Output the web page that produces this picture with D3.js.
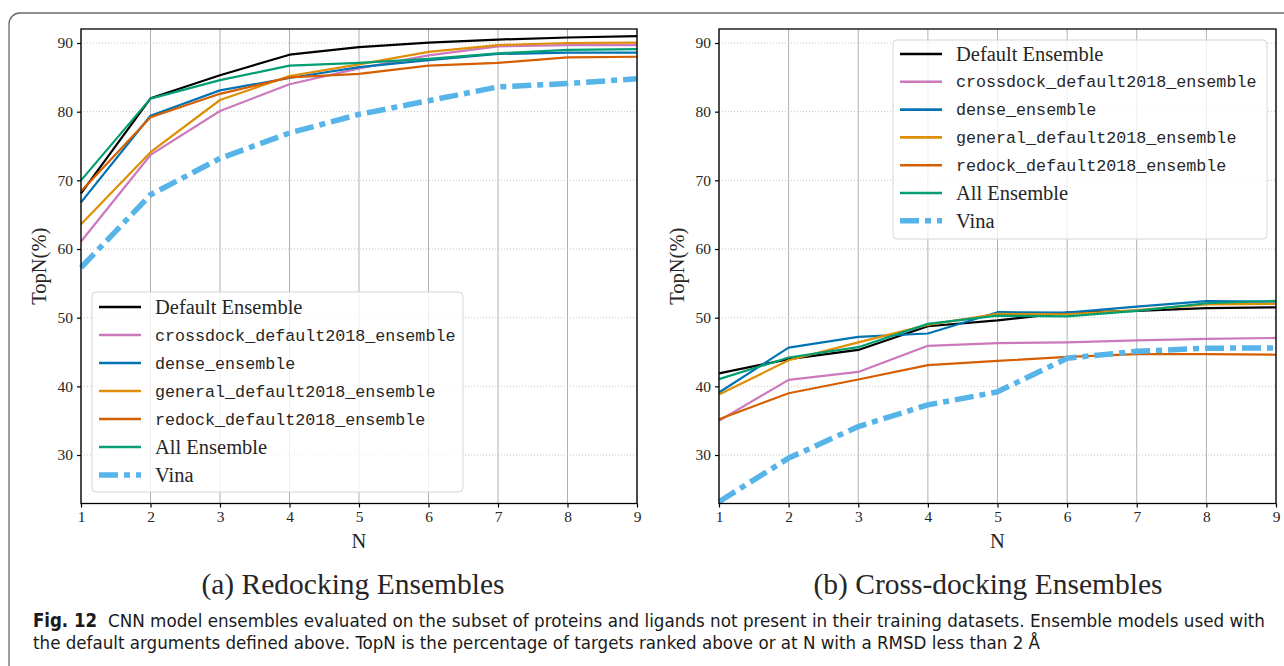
<!DOCTYPE html>
<html>
<head>
<meta charset="utf-8">
<script src="https://cdn.jsdelivr.net/npm/d3@7"></script>
<style>
  html, body { margin: 0; padding: 0; background: #fff; }
  svg { display: block; }
</style>
</head>
<body>
<svg id="chart" width="1284" height="666"></svg>
<script>
// ---------------- DATA ----------------
const nValues = [1, 2, 3, 4, 5, 6, 7, 8, 9];
const xTickLabels = ["1", "2", "3", "4", "5", "6", "7", "8", "9"];
const yTickValues = [30, 40, 50, 60, 70, 80, 90];

const seriesNames = [
  "Default Ensemble",
  "crossdock_default2018_ensemble",
  "dense_ensemble",
  "general_default2018_ensemble",
  "redock_default2018_ensemble",
  "All Ensemble",
  "Vina"
];
const seriesMono = [false, true, true, true, true, false, false];

// (a) Redocking Ensembles
const redockDefault   = [68.1, 81.95, 85.3, 88.3, 89.4, 90.05, 90.5, 90.8, 91.0];
const redockCrossdock = [61.1, 73.7, 80.1, 84.0, 86.3, 88.2, 89.5, 89.7, 89.7];
const redockDense     = [66.8, 79.4, 83.1, 84.9, 86.5, 87.5, 88.4, 88.6, 88.6];
const redockGeneral   = [63.6, 74.1, 81.7, 85.2, 86.9, 88.7, 89.7, 90.0, 90.05];
const redockRedock    = [68.4, 79.2, 82.6, 85.0, 85.5, 86.7, 87.1, 87.9, 88.0];
const redockAll       = [70.0, 81.9, 84.6, 86.7, 87.1, 87.7, 88.5, 89.0, 89.1];
const redockVina      = [57.3, 67.9, 73.2, 76.9, 79.6, 81.6, 83.6, 84.1, 84.8];

// (b) Cross-docking Ensembles
const crossDefault   = [41.9, 43.96, 45.3, 48.75, 49.6, 50.75, 51.0, 51.4, 51.5];
const crossCrossdock = [35.0, 40.95, 42.1, 45.9, 46.3, 46.4, 46.7, 46.9, 47.05];
const crossDense     = [39.1, 45.65, 47.2, 47.7, 50.8, 50.75, 51.6, 52.4, 52.35];
const crossGeneral   = [38.8, 43.8, 46.4, 48.95, 50.55, 50.5, 51.1, 51.95, 52.0];
const crossRedock    = [35.2, 39.0, 41.0, 43.1, 43.7, 44.3, 44.7, 44.7, 44.6];
const crossAll       = [41.05, 44.2, 45.7, 49.1, 50.3, 50.2, 51.0, 52.1, 52.45];
const crossVina      = [23.2, 29.55, 34.15, 37.3, 39.2, 44.1, 45.1, 45.55, 45.6];

const panelTitles = ["(a) Redocking Ensembles", "(b) Cross-docking Ensembles"];
const captionBold = "Fig. 12";
const captionLine1 = "CNN model ensembles evaluated on the subset of proteins and ligands not present in their training datasets. Ensemble models used with";
const captionLine2 = "the default arguments defined above. TopN is the percentage of targets ranked above or at N with a RMSD less than 2 Å";

// ---------------- STYLE ----------------
const colors = ["#000000", "#cc78bc", "#0173b2", "#de8f05", "#d55e00", "#029e73", "#56b4e9"];
const widths = [2.2, 2.2, 2.2, 2.2, 2.2, 2.2, 5.5];
const dashes = [null, null, null, null, null, null, "19,6,6,6"];
const serif = "'Liberation Serif', 'DejaVu Serif', serif";
const mono = "'Liberation Mono', 'DejaVu Sans Mono', monospace";
const textCol = "#262626";

const svg = d3.select("#chart");

// outer rounded frame
svg.append("rect")
  .attr("x", 9).attr("y", 13).attr("width", 1300).attr("height", 680)
  .attr("rx", 11).attr("ry", 11)
  .attr("fill", "none").attr("stroke", "#6a6a6a").attr("stroke-width", 1.3);

const panels = [
  { x0: 81, x1: 637, data: [redockDefault, redockCrossdock, redockDense, redockGeneral, redockRedock, redockAll, redockVina],
    legend: { x: 92, y: 292, w: 371, h: 200, row0: 307, step: 28 }, title: panelTitles[0], titleX: 353 },
  { x0: 719, x1: 1276, data: [crossDefault, crossCrossdock, crossDense, crossGeneral, crossRedock, crossAll, crossVina],
    legend: { x: 893, y: 40, w: 374, h: 199, row0: 54, step: 27.8 }, title: panelTitles[1], titleX: 988 }
];
const yTop = 29, yBot = 503.5;

panels.forEach((p, pi) => {
  const g = svg.append("g");
  const x = d3.scaleLinear().domain([1, 9]).range([p.x0, p.x1]);
  const y = d3.scaleLinear().domain([22.94, 92.04]).range([yBot, yTop]);

  // horizontal dotted grid
  g.append("g").selectAll("line").data(yTickValues).join("line")
    .attr("x1", p.x0).attr("x2", p.x1)
    .attr("y1", d => y(d)).attr("y2", d => y(d))
    .attr("stroke", "#c4c4c4").attr("stroke-width", 1).attr("stroke-dasharray", "1,2");
  // vertical solid grid
  g.append("g").selectAll("line").data(nValues).join("line")
    .attr("x1", d => x(d)).attr("x2", d => x(d))
    .attr("y1", yTop).attr("y2", yBot)
    .attr("stroke", "#b0b0b0").attr("stroke-width", 1);

  // lines
  const line = d3.line().x((d, i) => x(nValues[i])).y(d => y(d));
  p.data.forEach((vals, si) => {
    g.append("path").datum(vals)
      .attr("d", line)
      .attr("fill", "none")
      .attr("stroke", colors[si])
      .attr("stroke-width", widths[si])
      .attr("stroke-linejoin", "round")
      .attr("stroke-dasharray", dashes[si]);
  });

  // axes
  const xAxis = d3.axisBottom(x).tickValues(nValues).tickFormat((d, i) => xTickLabels[i]).tickSize(4).tickPadding(3);
  const yAxis = d3.axisLeft(y).tickValues(yTickValues).tickSize(4).tickPadding(4);
  const gx = g.append("g").attr("transform", `translate(0,${yBot})`).call(xAxis);
  const gy = g.append("g").attr("transform", `translate(${p.x0},0)`).call(yAxis);
  [gx, gy].forEach(a => {
    a.select(".domain").remove();
    a.selectAll(".tick line").attr("stroke", "#000").attr("stroke-width", 1.2);
    a.selectAll(".tick text").attr("font-family", serif).attr("font-size", 15.5).attr("fill", textCol);
  });

  // spines
  g.append("rect").attr("x", p.x0).attr("y", yTop).attr("width", p.x1 - p.x0).attr("height", yBot - yTop)
    .attr("fill", "none").attr("stroke", "#000").attr("stroke-width", 1.3);

  // axis labels
  g.append("text").attr("x", (p.x0 + p.x1) / 2).attr("y", 548)
    .attr("text-anchor", "middle").attr("font-family", serif).attr("font-size", 20.5).attr("fill", textCol)
    .text("N");
  g.append("text").attr("transform", `translate(${p.x0 - 35},${(yTop + yBot) / 2}) rotate(-90)`)
    .attr("text-anchor", "middle").attr("font-family", serif).attr("font-size", 20.5).attr("fill", textCol)
    .text("TopN(%)");

  // legend
  const L = p.legend;
  const lg = g.append("g");
  lg.append("rect").attr("x", L.x).attr("y", L.y).attr("width", L.w).attr("height", L.h)
    .attr("rx", 4).attr("ry", 4)
    .attr("fill", "#fff").attr("fill-opacity", 0.8)
    .attr("stroke", "#d5d5d5").attr("stroke-width", 1);
  seriesNames.forEach((name, si) => {
    const cy = L.row0 + si * L.step;
    lg.append("line").attr("x1", L.x + 7).attr("x2", L.x + 49).attr("y1", cy).attr("y2", cy)
      .attr("stroke", colors[si]).attr("stroke-width", si === 6 ? 5.5 : 2.6)
      .attr("stroke-dasharray", si === 6 ? "19,6,6,6" : null);
    lg.append("text").attr("x", L.x + 63).attr("y", cy).attr("dy", "0.33em")
      .attr("font-family", seriesMono[si] ? mono : serif)
      .attr("font-size", seriesMono[si] ? 16.7 : 20.5)
      .attr("fill", textCol)
      .text(name);
  });

  // panel title
  g.append("text").attr("x", p.titleX).attr("y", 594)
    .attr("text-anchor", "middle").attr("font-family", serif).attr("font-size", 29.5).attr("fill", textCol)
    .text(p.title);
});

// figure caption
const sans = "'DejaVu Sans Condensed', 'Liberation Sans Narrow', 'Open Sans', sans-serif";
svg.append("text").attr("x", 33).attr("y", 627)
  .attr("font-family", sans).attr("font-weight", "bold").attr("font-size", 19)
  .attr("textLength", 64).attr("lengthAdjust", "spacingAndGlyphs").attr("fill", "#1a1a1a")
  .text(captionBold);
svg.append("text").attr("x", 108).attr("y", 627)
  .attr("font-family", sans).attr("font-size", 18)
  .attr("textLength", 1157).attr("lengthAdjust", "spacingAndGlyphs").attr("fill", "#1a1a1a")
  .text(captionLine1);
svg.append("text").attr("x", 33).attr("y", 649)
  .attr("font-family", sans).attr("font-size", 18)
  .attr("textLength", 1007).attr("lengthAdjust", "spacingAndGlyphs").attr("fill", "#1a1a1a")
  .text(captionLine2);
</script>
</body>
</html>
